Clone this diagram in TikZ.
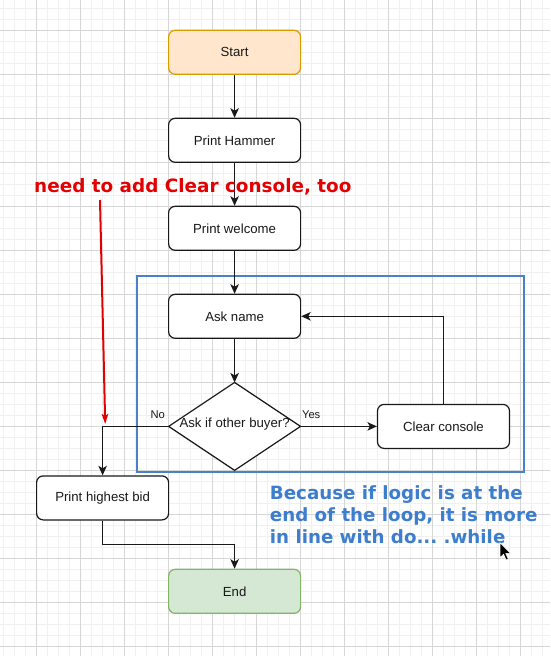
\documentclass[tikz,border=0pt]{standalone}
\usepackage{fontspec}
\setmainfont{Liberation Sans}
\newfontfamily\annotfont{DejaVu Sans}
\usetikzlibrary{arrows.meta,calc}
\definecolor{gridminor}{RGB}{240,240,240}
\definecolor{gridmajor}{RGB}{214,214,214}
\definecolor{startfill}{HTML}{FFE6CC}
\definecolor{startdraw}{HTML}{D79B00}
\definecolor{endfill}{HTML}{D5E8D4}
\definecolor{enddraw}{HTML}{82B366}
\definecolor{loopblue}{RGB}{74,130,200}
\definecolor{noteblue}{RGB}{60,126,205}
\definecolor{notered}{RGB}{228,0,0}
\definecolor{ink}{RGB}{25,25,25}
\frenchspacing
\begin{document}
\begin{tikzpicture}[x=1pt,y=-1pt,
  box/.style={draw=ink, line width=1.2pt, rounded corners=6.6pt,
    minimum width=132pt, minimum height=44pt, fill=white, text=ink,
    font=\fontsize{13.2}{15}\selectfont, inner sep=0pt},
  startbox/.style={box, fill=startfill, draw=startdraw},
  endbox/.style={box, fill=endfill, draw=enddraw},
  flow/.style={draw=ink, line width=1.25pt, -{Stealth[length=9.5pt,width=8.5pt,inset=2.5pt]}},
  lbl/.style={font=\fontsize{11.2}{13}\selectfont, inner sep=0pt, text=ink},
  minorline/.style={draw=gridminor, line width=0.8pt},
  majorline/.style={draw=gridmajor, line width=0.8pt},
  notetext/.style={font=\annotfont\bfseries, inner sep=0pt, anchor=base west}
]
\useasboundingbox (0,0) rectangle (550,656);
\fill[white] (0,0) rectangle (550,656);
% grid
\foreach \i in {0,...,49} \draw[minorline] ({3+11*\i},0) -- ({3+11*\i},656);
\foreach \i in {0,...,58} \draw[minorline] (0,{8.3+11*\i}) -- (550,{8.3+11*\i});
\foreach \i in {0,...,11} \draw[majorline] ({36+44*\i},0) -- ({36+44*\i},656);
\foreach \i in {0,...,14} \draw[majorline] (0,{30.3+44*\i}) -- (550,{30.3+44*\i});

% loop frame
\node[draw=loopblue, line width=2pt, minimum width=387pt, minimum height=196pt, inner sep=0pt] (loop) at (330.9,374.1) {};

% nodes
\node[startbox] (start) at (234.6,52.3) {Start};
\node[box] (hammer) at (234.6,140.3) {Print Hammer};
\node[box] (welcome) at (234.6,228.3) {Print welcome};
\node[box] (ask) at (234.6,316.3) {Ask name};
\node[minimum width=131.5pt, minimum height=87.5pt, inner sep=0pt] (dia) at (234.6,426.4) {};
\draw[ink, line width=1.2pt, fill=white] (dia.north) -- (dia.east) -- (dia.south) -- (dia.west) -- cycle;
\node[font=\fontsize{13.2}{15}\selectfont, text=ink, inner sep=0pt] (diatext) at ($(dia.center)+(0,-2.5)$) {Ask if other buyer?};
\node[box] (clear) at (443.5,426.4) {Clear console};
\node[box] (bid) at (102.6,497.9) {Print highest bid};
\node[endbox] (end) at (234.6,591.3) {End};

% connectors
\draw[flow] (start) -- (hammer);
\draw[flow] (hammer) -- (welcome);
\draw[flow] (welcome) -- (ask);
\draw[flow] (ask) -- (dia.north);
\draw[flow] (dia.east) -- (clear.west);
\draw[flow] (clear.north) |- (ask.east);
\draw[flow] (dia.west) -| (bid.north);
\coordinate (mid) at ($(bid.south)!0.5!(end.north)$);
\draw[flow] (bid.south) |- (mid) -| (end.north);

\node[lbl] (no) at (157.8,414.3) {No};
\node[lbl] (yes) at (311.2,414.3) {Yes};

% annotations
\node[notetext, text=notered, font=\annotfont\bfseries\fontsize{18.4}{22}\selectfont] (rednote) at (34,192.5) {need to add Clear console, too};
\coordinate (rs) at (100,200);
\coordinate (re) at (105.2,424);
\draw[notered, line width=2pt, -{Stealth[length=10pt,width=6.5pt,inset=2pt]}] (rs) -- (re);

\node[notetext, text=noteblue, font=\annotfont\bfseries\fontsize{18.25}{22}\selectfont] (blue1) at (269.7,499.8) {Because if logic is at the};
\node[notetext, text=noteblue, font=\annotfont\bfseries\fontsize{18.25}{22}\selectfont] (blue2) at (269.7,521.8) {end of the loop, it is more};
\node[notetext, text=noteblue, font=\annotfont\bfseries\fontsize{18.25}{22}\selectfont] (blue3) at (269.7,543.6) {in line with do... .while};

% mouse pointer
\draw[fill=black, draw=white, line width=0.6pt, line join=miter]
  (500,542.7) -- ++(0,15) -- ++(3.5,-3.5) -- ++(2.6,5.8) -- ++(2.2,-1) -- ++(-2.5,-5.6) -- ++(4.8,0) -- cycle;
\end{tikzpicture}
\end{document}
